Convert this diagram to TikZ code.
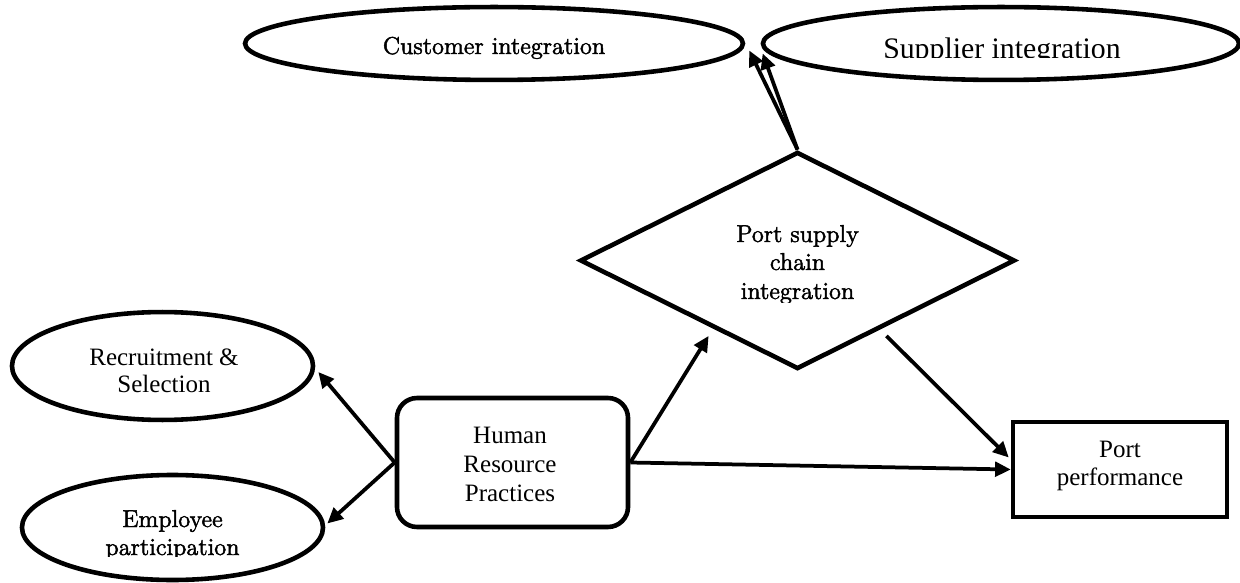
\documentclass[tikz,border=0pt]{standalone}
\usepackage{fontspec}
\newfontfamily\tnr{Liberation Serif}
\newfontfamily\lmheavy{lmroman12-regular.otf}[FakeBold=2]
\usetikzlibrary{shapes.geometric,arrows.meta,calc}
\tikzset{
  outline/.style={draw=black, line width=2.2pt, inner sep=0pt, fill=none},
  ell/.style={outline, ellipse},
  arr/.style={draw=black, line width=1.8pt, -{Triangle[length=7.5pt,width=7pt]}},
  lmtext/.style={inner sep=0pt, anchor=base, font=\lmheavy\fontsize{11.7}{14}\selectfont},
  tnrtext/.style={inner sep=0pt, anchor=base, font=\tnr\fontsize{12}{14}\selectfont},
  bigtnr/.style={inner sep=0pt, anchor=base, font=\tnr\fontsize{14.3}{17}\selectfont},
}
\begin{document}
\begin{tikzpicture}[x=0.48pt,y=-0.48pt]
\useasboundingbox (0,0) rectangle (1240,583);
% shapes
\node[ell, minimum width=239pt, minimum height=35pt] (cust) at (494,43.5) {};
\node[ell, minimum width=228.5pt, minimum height=35pt] (sup) at (1001,43.5) {};
\node[outline, diamond, minimum width=208.8pt, minimum height=104.2pt] (diam) at (797.5,260.5) {};
\node[ell, minimum width=144.5pt, minimum height=51.8pt] (rec) at (162.5,366) {};
\node[ell, minimum width=144.5pt, minimum height=50.4pt] (emp) at (172.5,527.5) {};
\node[outline, rectangle, rounded corners=9.6pt, minimum width=110.9pt, minimum height=61.9pt] (hrp) at (512.5,462.5) {};
\node[outline, rectangle, minimum width=102.7pt, minimum height=45.6pt] (perf) at (1120,469.5) {};
% texts
\node[lmtext] (custtext) at (494,54) {Customer integration};
\begin{scope}
  \clip (763,0) rectangle (1240,57.8);
  \node[bigtnr] (suptext) at (1002,58.5) {Supplier integration};
\end{scope}
\node[lmtext] (diam1) at (797.5,242) {Port supply};
\node[lmtext] (diam2) at (797.5,270) {chain};
\begin{scope}
  \clip (600,274) rectangle (1000,302);
  \node[lmtext] (diam3) at (797.5,299) {integration};
\end{scope}
\node[tnrtext] (rec1) at (164,365) {Recruitment \&};
\node[tnrtext] (rec2) at (164,392) {Selection};
\node[lmtext] (emp1) at (172.5,527) {Employee};
\begin{scope}
  \clip (0,533) rectangle (330,556);
  \node[lmtext] (emp2) at (172.5,555) {participation};
\end{scope}
\node[tnrtext] (hrp1) at (510,443) {Human};
\node[tnrtext] (hrp2) at (510,472) {Resource};
\node[tnrtext] (hrp3) at (510,501) {Practices};
\node[tnrtext] (perf1) at (1120,457) {Port};
\node[tnrtext] (perf2) at (1120,485) {performance};
% connectors
\draw[arr] (hrp.west) -- ($(rec.east)+(3,6)$);
\draw[arr] (hrp.west) -- ($(emp.east)+(2,-4)$);
\draw[arr] (hrp.east) -- ($(diam.south west)+(21,20)$);
\draw[arr] (hrp.east) -- (perf.west);
\draw[arr] ($(diam.south east)+(-21,20)$) -- ($(perf.west)+(-2,-12)$);
\draw[arr] (diam.north) -- ($(cust.east)+(4,7)$);
\draw[arr] (diam.north) -- ($(sup.west)+(2,10)$);
\end{tikzpicture}
\end{document}
